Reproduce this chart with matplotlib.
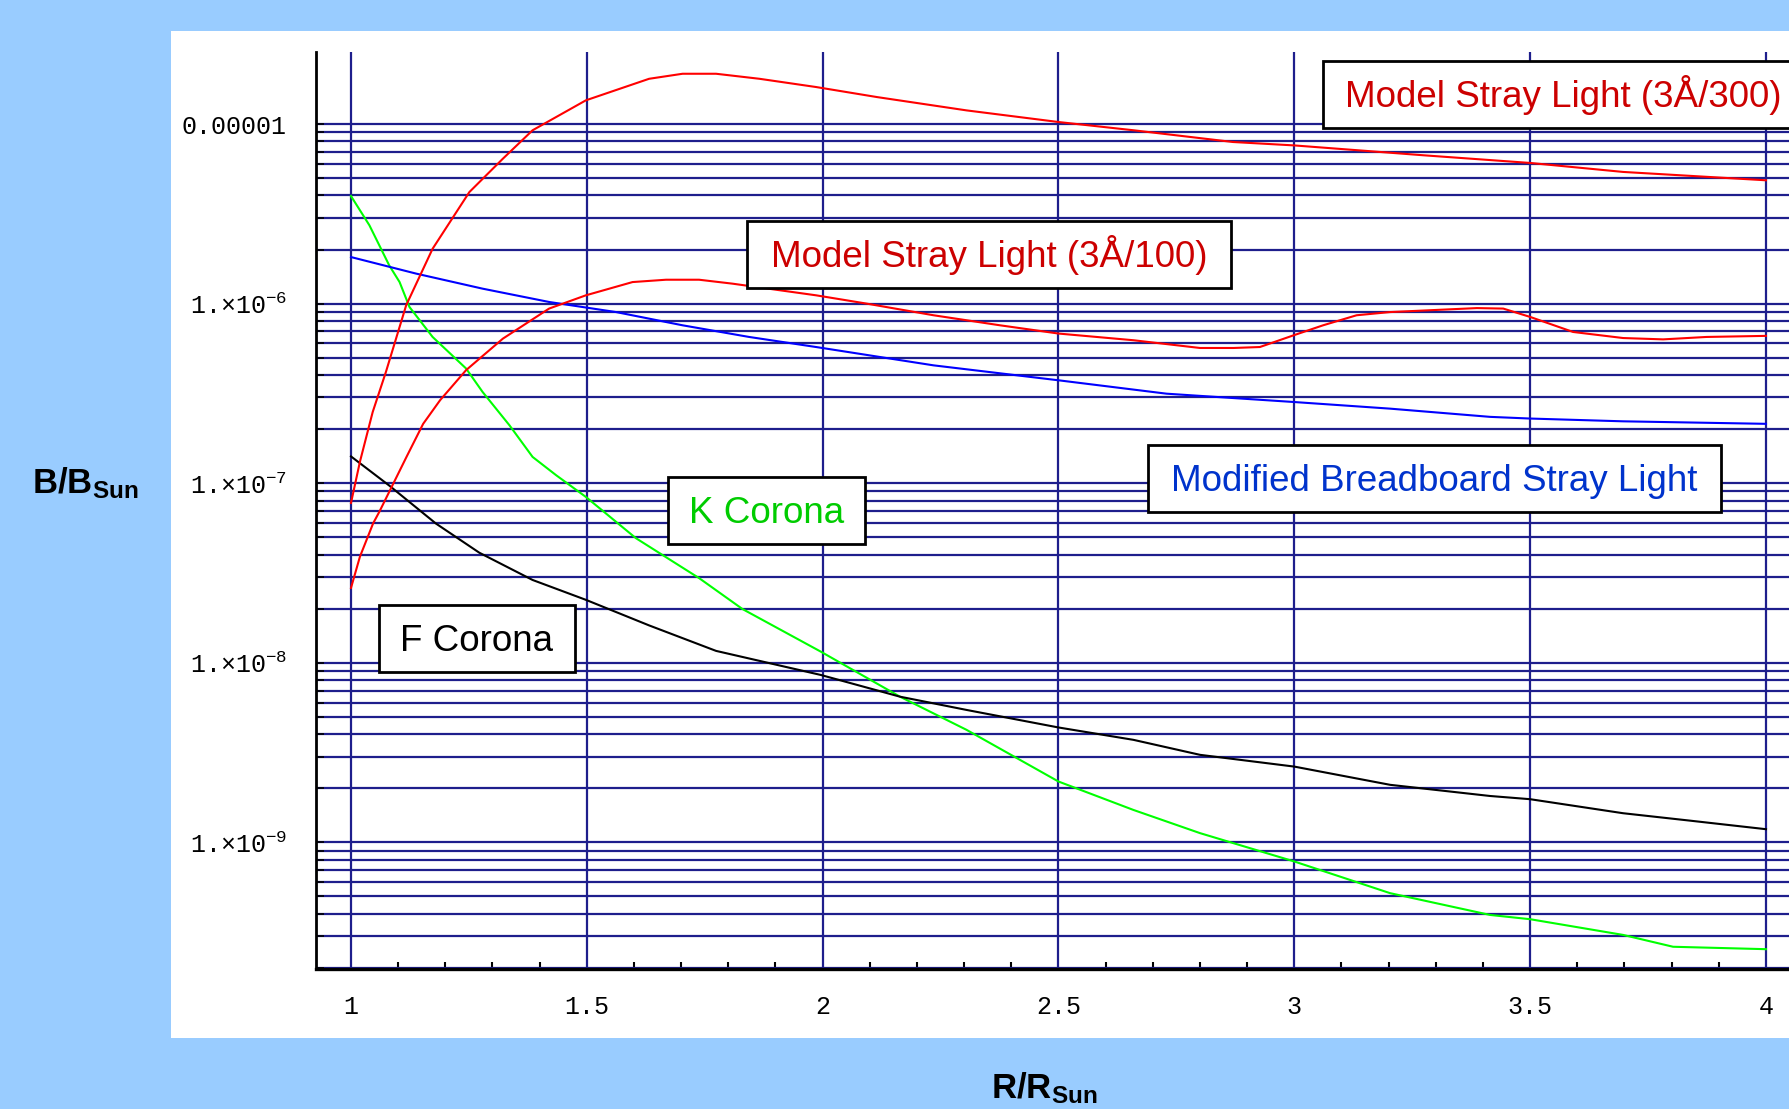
import matplotlib
matplotlib.use("Agg")
import matplotlib.pyplot as plt
from matplotlib.patches import Rectangle
from matplotlib.ticker import FixedLocator, FixedFormatter, MultipleLocator, NullFormatter

plt.rcParams['mathtext.default'] = 'regular'

# ---------------- data ----------------
r_300 = [1.0, 1.019, 1.046, 1.074, 1.117, 1.173, 1.251, 1.322, 1.385, 1.498, 1.632, 1.703,
         1.774, 1.866, 1.986, 2.115, 2.305, 2.5, 2.659, 2.87, 3.0, 3.273, 3.5, 3.697, 4.0]
b_300 = [7.76e-8, 1.318e-7, 2.49e-7, 4.16e-7, 9.79e-7, 2.02e-6, 4.18e-6, 6.41e-6, 9.23e-6,
         1.355e-5, 1.786e-5, 1.905e-5, 1.905e-5, 1.786e-5, 1.607e-5, 1.413e-5, 1.191e-5,
         1.026e-5, 9.23e-6, 7.94e-6, 7.60e-6, 6.70e-6, 6.07e-6, 5.41e-6, 4.86e-6]

r_100 = [1.0, 1.019, 1.047, 1.060, 1.090, 1.118, 1.153, 1.189, 1.244, 1.322, 1.420, 1.498,
         1.597, 1.668, 1.738, 1.809, 1.986, 2.093, 2.235, 2.376, 2.5, 2.659, 2.8, 2.871,
         2.927, 3.0, 3.061, 3.132, 3.203, 3.387, 3.443, 3.501, 3.591, 3.697, 3.782, 3.874, 4.0]
b_100 = [2.61e-8, 3.90e-8, 5.98e-8, 6.92e-8, 9.98e-8, 1.406e-7, 2.14e-7, 2.90e-7, 4.26e-7,
         6.38e-7, 9.38e-7, 1.112e-6, 1.318e-6, 1.358e-6, 1.358e-6, 1.291e-6, 1.112e-6,
         1.0e-6, 8.61e-7, 7.57e-7, 6.81e-7, 6.25e-7, 5.66e-7, 5.66e-7, 5.73e-7, 6.68e-7,
         7.57e-7, 8.61e-7, 8.97e-7, 9.44e-7, 9.38e-7, 8.41e-7, 6.95e-7, 6.43e-7, 6.32e-7,
         6.52e-7, 6.61e-7]

r_bb = [1.0, 1.138, 1.279, 1.42, 1.562, 1.703, 1.844, 1.986, 2.235, 2.5, 2.729, 3.0, 3.203,
        3.415, 3.5, 3.697, 4.0]
b_bb = [1.816e-6, 1.469e-6, 1.211e-6, 1.021e-6, 8.97e-7, 7.57e-7, 6.52e-7, 5.73e-7, 4.53e-7,
        3.74e-7, 3.15e-7, 2.83e-7, 2.60e-7, 2.34e-7, 2.29e-7, 2.21e-7, 2.14e-7]

r_k = [1.0, 1.039, 1.081, 1.103, 1.124, 1.173, 1.244, 1.279, 1.336, 1.385, 1.435, 1.498,
       1.604, 1.738, 1.830, 1.996, 2.164, 2.305, 2.5, 2.659, 2.8, 3.0, 3.203, 3.415, 3.5,
       3.697, 3.803, 4.0]
b_k = [3.97e-6, 2.73e-6, 1.633e-6, 1.318e-6, 9.57e-7, 6.52e-7, 4.35e-7, 3.22e-7, 2.10e-7,
       1.40e-7, 1.107e-7, 8.38e-8, 4.94e-8, 2.96e-8, 1.991e-8, 1.153e-8, 6.47e-9, 4.23e-9,
       2.18e-9, 1.514e-9, 1.125e-9, 7.82e-10, 5.21e-10, 3.94e-10, 3.73e-10, 3.05e-10,
       2.62e-10, 2.54e-10]

r_f = [1.0, 1.081, 1.180, 1.272, 1.385, 1.498, 1.632, 1.774, 1.996, 2.164, 2.305, 2.5,
       2.659, 2.8, 3.0, 3.203, 3.415, 3.5, 3.697, 3.838, 4.0]
b_f = [1.409e-7, 9.70e-8, 5.96e-8, 4.10e-8, 2.89e-8, 2.24e-8, 1.614e-8, 1.164e-8, 8.55e-9,
       6.47e-9, 5.46e-9, 4.36e-9, 3.72e-9, 3.07e-9, 2.64e-9, 2.09e-9, 1.811e-9, 1.738e-9,
       1.452e-9, 1.321e-9, 1.183e-9]

x_ticks = [1, 1.5, 2, 2.5, 3, 3.5, 4]
x_tick_labels = ["1", "1.5", "2", "2.5", "3", "3.5", "4"]
y_ticks = [1e-9, 1e-8, 1e-7, 1e-6, 1e-5]
y_tick_labels = ["1.×10$^{-9}$", "1.×10$^{-8}$", "1.×10$^{-7}$", "1.×10$^{-6}$", "0.00001"]

label_300 = "Model Stray Light (3Å/300)"
label_100 = "Model Stray Light (3Å/100)"
label_bb = "Modified Breadboard Stray Light"
label_k = "K Corona"
label_f = "F Corona"

# ---------------- figure ----------------
W, H = 1790, 1109
fig = plt.figure(figsize=(W / 100, H / 100), dpi=100, facecolor="#99ccff")


def fx(px):
    return px / W


def fy(py):
    return 1 - py / H


# white panel
fig.add_artist(Rectangle((fx(171), fy(1038)), fx(1800) - fx(171), (1038 - 31) / H,
                         transform=fig.transFigure, facecolor="white", edgecolor="none",
                         zorder=-1))

ax = fig.add_axes([fx(316), fy(969), fx(1790) - fx(316), (969 - 52) / H])
ax.set_facecolor("none")
ax.set_yscale("log")
ax.set_xlim(0.9258, 4.0509)
ax.set_ylim(1.97e-10, 2.518e-5)

navy = "#1e1e8c"
ax.xaxis.set_major_locator(FixedLocator(x_ticks))
ax.xaxis.set_major_formatter(FixedFormatter(x_tick_labels))
ax.xaxis.set_minor_locator(MultipleLocator(0.1))

minor_y = [k * 10.0 ** n for n in range(-10, -5) for k in range(2, 10)]
ax.yaxis.set_major_locator(FixedLocator(y_ticks))
ax.yaxis.set_major_formatter(FixedFormatter(y_tick_labels))
ax.yaxis.set_minor_locator(FixedLocator(minor_y))
ax.yaxis.set_minor_formatter(NullFormatter())

ax.set_axisbelow(True)
ax.grid(which="major", axis="x", color=navy, lw=1.6)
ax.grid(which="both", axis="y", color=navy, lw=1.6)

mono = "Liberation Mono"
ax.tick_params(axis="x", which="major", direction="in", length=0, pad=19,
               labelsize=18, labelcolor="black")
ax.tick_params(axis="x", which="minor", direction="in", length=5, width=1.5, color="black")
ax.tick_params(axis="y", which="both", direction="in", length=6, width=1.2, color="black",
               pad=21, labelsize=18, labelcolor="black")
for lab in ax.get_xticklabels() + ax.get_yticklabels():
    lab.set_fontfamily(mono)

for s in ("top", "right"):
    ax.spines[s].set_visible(False)
ax.spines["left"].set_linewidth(2.0)
ax.spines["bottom"].set_linewidth(2.4)
ax.spines["left"].set_color("black")
ax.spines["bottom"].set_color("black")

lw = 1.5
ax.plot(r_k, b_k, color="#00ff00", lw=lw, zorder=3)
ax.plot(r_f, b_f, color="black", lw=lw, zorder=3)
ax.plot(r_bb, b_bb, color="#0000ff", lw=lw, zorder=3)
ax.plot(r_100, b_100, color="#ff0000", lw=lw, zorder=3)
ax.plot(r_300, b_300, color="#ff0000", lw=lw, zorder=3)

# ---------------- labelled boxes ----------------
box_fs = 26.5


def label_box(x0, y0, x1, y1, text, color, tx=None):
    fig.add_artist(Rectangle((fx(x0), fy(y1)), fx(x1) - fx(x0), (y1 - y0) / H,
                             transform=fig.transFigure, facecolor="white",
                             edgecolor="black", lw=2.0, zorder=5))
    base = (y0 + y1) / 2 + 12.8
    if tx is None:
        fig.text(fx((x0 + x1) / 2), fy(base), text, ha="center", va="baseline",
                 fontsize=box_fs, color=color, family="Liberation Sans", zorder=6)
    else:
        fig.text(fx(tx), fy(base), text, ha="left", va="baseline",
                 fontsize=box_fs, color=color, family="Liberation Sans", zorder=6)


label_box(1323, 61, 1805, 128, label_300, "#cc0000", tx=1345)
label_box(747, 221, 1231, 288, label_100, "#cc0000")
label_box(1148, 445, 1721, 512, label_bb, "#0033cc")
label_box(668, 477, 865, 544, label_k, "#00cc00")
label_box(379, 605, 575, 672, label_f, "black")

# axis titles
fig.text(fx(32), fy(493), "B/B$_{Sun}$", ha="left", va="baseline", fontsize=25,
         fontweight="bold", family="Liberation Sans", color="black")
fig.text(fx(991), fy(1098), "R/R$_{Sun}$", ha="left", va="baseline", fontsize=25,
         fontweight="bold", family="Liberation Sans", color="black")

fig.savefig("out.png", dpi=100, facecolor=fig.get_facecolor())
